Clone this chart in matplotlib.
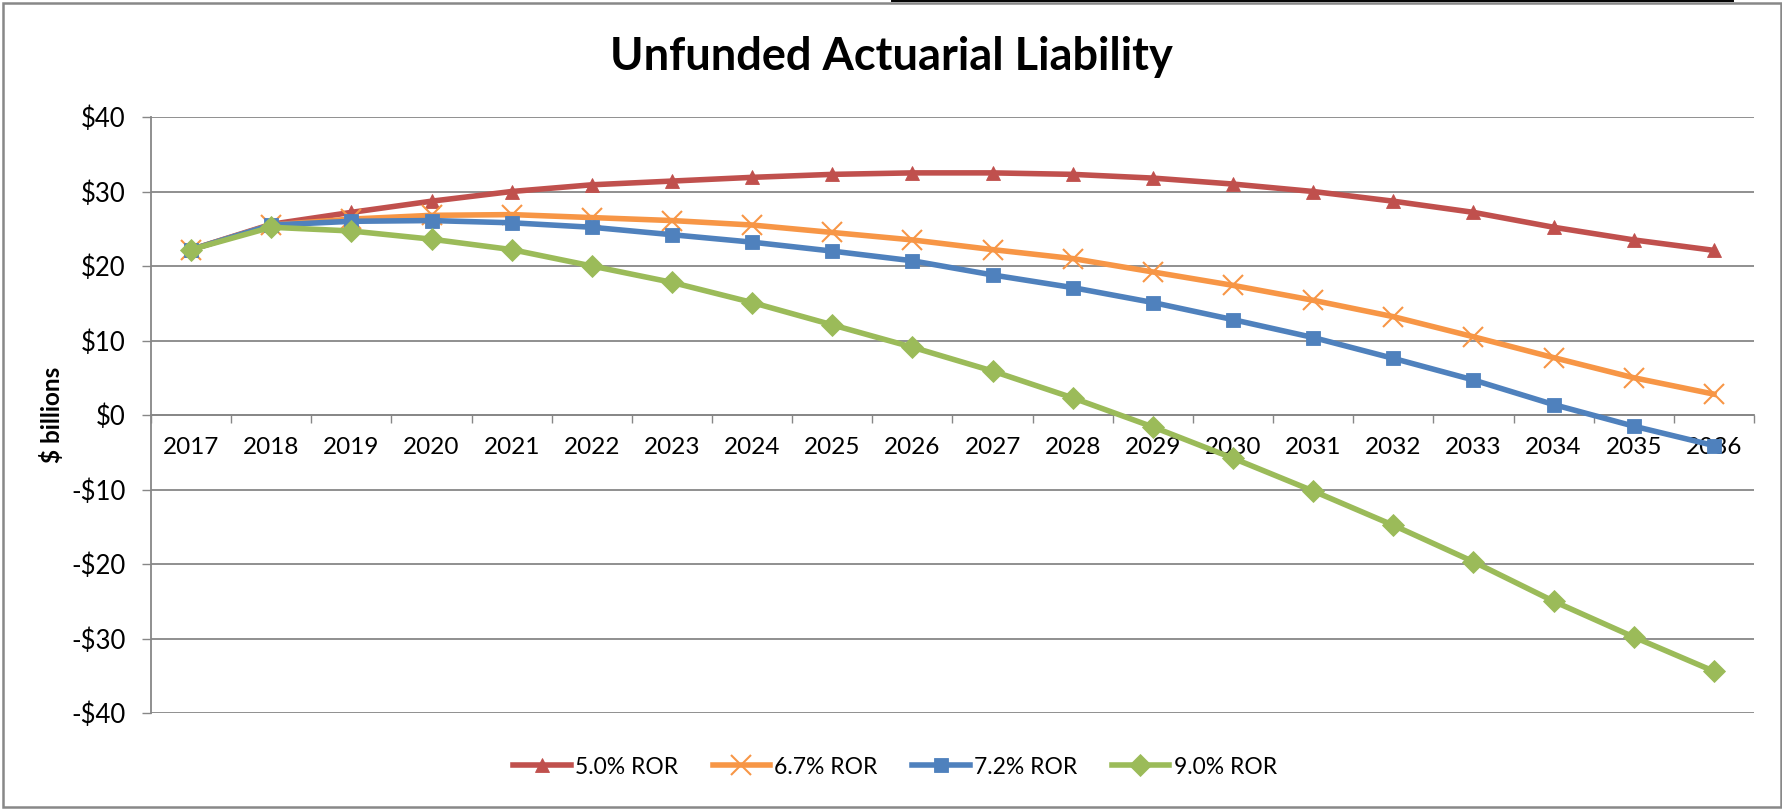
import matplotlib
matplotlib.use("Agg")
import matplotlib.pyplot as plt
from matplotlib.lines import Line2D
from matplotlib.patches import Rectangle
from matplotlib.ticker import FixedLocator

# ---- data ----
years = ["2017", "2018", "2019", "2020", "2021", "2022", "2023", "2024", "2025", "2026",
         "2027", "2028", "2029", "2030", "2031", "2032", "2033", "2034", "2035", "2036"]
ror_50 = [22.2, 25.6, 27.2, 28.7, 30.0, 30.9, 31.4, 31.9, 32.3, 32.5,
          32.5, 32.3, 31.8, 31.0, 30.0, 28.7, 27.2, 25.2, 23.5, 22.1]
ror_67 = [22.2, 25.5, 26.3, 26.8, 26.9, 26.5, 26.1, 25.5, 24.5, 23.5,
          22.2, 21.0, 19.2, 17.4, 15.4, 13.2, 10.5, 7.7, 5.0, 2.8]
ror_72 = [22.2, 25.5, 26.0, 26.1, 25.8, 25.2, 24.2, 23.2, 22.0, 20.7,
          18.8, 17.1, 15.1, 12.8, 10.4, 7.6, 4.7, 1.4, -1.5, -4.1]
ror_90 = [22.2, 25.2, 24.7, 23.6, 22.2, 20.0, 17.8, 15.1, 12.1, 9.1,
          5.9, 2.3, -1.6, -5.8, -10.2, -14.8, -19.7, -25.0, -29.8, -34.4]
series_names = ["5.0% ROR", "6.7% ROR", "7.2% ROR", "9.0% ROR"]
y_ticks = [-40, -30, -20, -10, 0, 10, 20, 30, 40]
y_tick_labels = ["-$40", "-$30", "-$20", "-$10", "$0", "$10", "$20", "$30", "$40"]
title = "Unfunded Actuarial Liability"
y_label = "$ billions"

# ---- style ----
FONT = "Lato"
plt.rcParams["font.family"] = [FONT, "DejaVu Sans"]
GRID = "#878787"
colors = ["#C0504D", "#F79646", "#4F81BD", "#9BBB59"]
markers = ["^", "x", "s", "D"]
msizes = [10, 15, 10, 11.5]

W, H = 1783, 810
fig = plt.figure(figsize=(W / 100, H / 100), dpi=100)
fig.patch.set_facecolor("white")

L, R, T, B = 151, 1754, 117, 713
ax = fig.add_axes([L / W, 1 - B / H, (R - L) / W, (B - T) / H])

x = list(range(len(years)))
all_series = [ror_50, ror_67, ror_72, ror_90]
for i, (vals, name) in enumerate(zip(all_series, series_names)):
    filled = markers[i] != "x"
    ax.plot(x, vals, color=colors[i], lw=4.0, marker=markers[i], ms=msizes[i],
            mfc=colors[i], mec=colors[i], mew=(0.6 if filled else 1.5),
            label=name, zorder=3 + i, solid_joinstyle="round")

ax.set_xlim(-0.5, len(years) - 0.5)
ax.set_ylim(-40, 40)

# y axis
ax.set_yticks(y_ticks)
ax.set_yticklabels(y_tick_labels)
ax.yaxis.grid(True, color=GRID, lw=1.3)
ax.set_axisbelow(True)
ax.tick_params(axis="y", direction="out", length=6.5, width=1.0, color=GRID,
               labelsize=18.5, pad=12, labelcolor="#000000")
ax.set_ylabel(y_label, fontsize=17.5, fontweight="bold", labelpad=5)

# x axis at zero
for s in ["top", "right"]:
    ax.spines[s].set_visible(False)
ax.spines["left"].set_color(GRID)
ax.spines["left"].set_linewidth(1.3)
ax.spines["bottom"].set_position(("data", 0))
ax.spines["bottom"].set_color(GRID)
ax.spines["bottom"].set_linewidth(1.3)
ax.set_xticks(x)
ax.set_xticklabels(years)
ax.xaxis.set_minor_locator(FixedLocator([k - 0.5 for k in range(len(years) + 1)]))
ax.tick_params(axis="x", which="major", length=0, labelsize=17.5, pad=16,
               labelcolor="#000000")
ax.tick_params(axis="x", which="minor", direction="out", length=6, width=1.0, color=GRID)

# title
fig.text(891 / W, 1 - 57 / H, title, ha="center", va="center",
         fontsize=32.5, fontweight="bold")

# legend
fig.legend(loc="center", bbox_to_anchor=(895 / W, 1 - 767 / H), ncol=4, frameon=False,
           fontsize=16.5, handlelength=2.5, handletextpad=0.2, columnspacing=1.5)

# outer border and top artifact line
fig.add_artist(Rectangle((3 / W, 3 / H), (W - 5) / W, (H - 6) / H, transform=fig.transFigure,
                         fill=False, edgecolor="#888888", lw=1.8))
fig.add_artist(Line2D([892 / W, 1733 / W], [1 - 0.8 / H, 1 - 0.8 / H],
                      transform=fig.transFigure, color="#000000", lw=1.4))

fig.savefig("out.png", dpi=100, facecolor="white")
